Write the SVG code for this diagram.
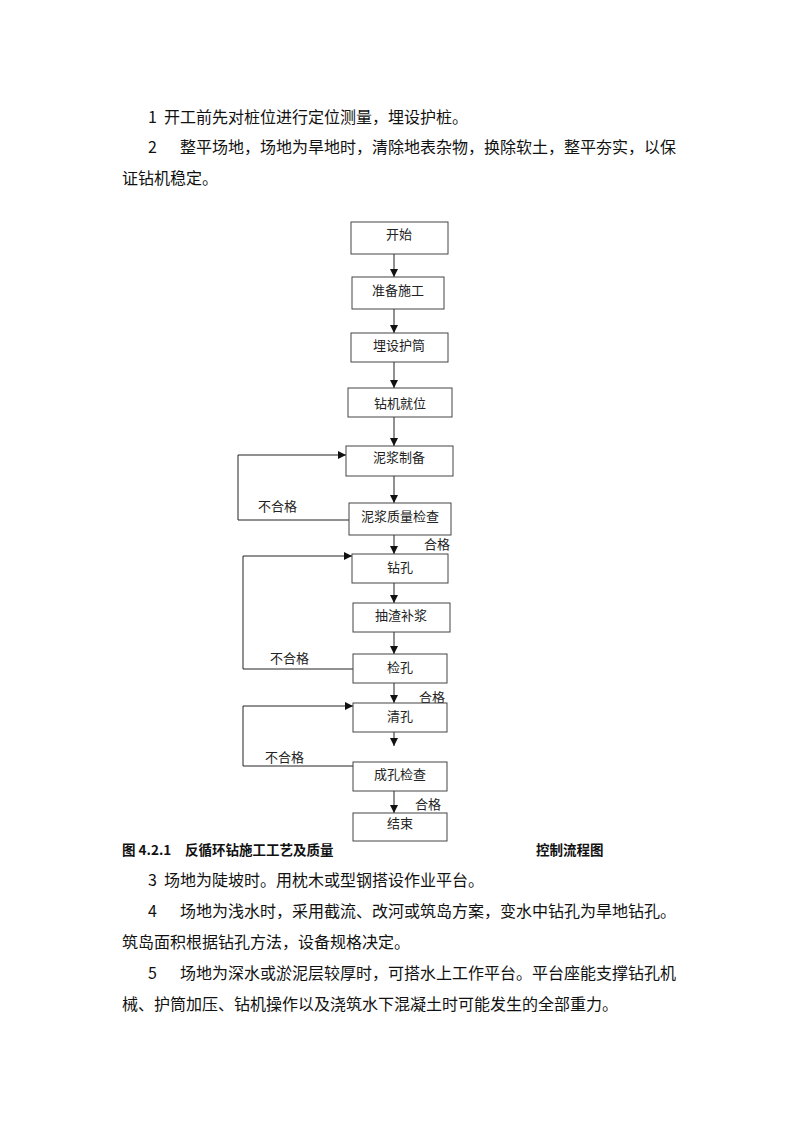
<svg xmlns="http://www.w3.org/2000/svg" width="800" height="1132" viewBox="0 0 800 1132">
<style>
.p{font-family:"Noto Sans CJK SC","Liberation Serif",serif;font-size:16px;fill:#111}
.cap{font-family:"Noto Sans CJK SC","Liberation Sans",sans-serif;font-size:13.5px;font-weight:bold;fill:#111}
.box{fill:#fff;stroke:#444;stroke-width:1}
.bt{font-family:"Noto Sans CJK SC","Liberation Sans",sans-serif;font-size:13px;fill:#222;text-anchor:middle}
.lb{font-family:"Noto Sans CJK SC","Liberation Sans",sans-serif;font-size:13px;fill:#222}
.ln{fill:none;stroke:#222;stroke-width:1}
</style>
<defs>
<marker id="ah" viewBox="0 0 10 10" refX="10" refY="5" markerWidth="8" markerHeight="8" markerUnits="userSpaceOnUse" orient="auto">
<path d="M0,0 L10,5 L0,10 Z" fill="#111"/>
</marker>
</defs>
<rect width="800" height="1132" fill="#fff"/>

<g id="text-top">
<text class="p" x="148" y="123">1</text>
<text class="p" x="164" y="123">开工前先对桩位进行定位测量，埋设护桩。</text>
<text class="p" x="148" y="153">2</text>
<text class="p" x="180" y="153">整平场地，场地为旱地时，清除地表杂物，换除软土，整平夯实，以保</text>
<text class="p" x="122" y="184">证钻机稳定。</text>
</g>

<g id="connectors">
<line class="ln" x1="394" y1="254" x2="394" y2="277" marker-end="url(#ah)"/>
<line class="ln" x1="394" y1="309" x2="394" y2="333" marker-end="url(#ah)"/>
<line class="ln" x1="394" y1="362" x2="394" y2="388" marker-end="url(#ah)"/>
<line class="ln" x1="394" y1="417" x2="394" y2="446" marker-end="url(#ah)"/>
<line class="ln" x1="394" y1="476" x2="394" y2="503" marker-end="url(#ah)"/>
<line class="ln" x1="394" y1="535" x2="394" y2="554" marker-end="url(#ah)"/>
<line class="ln" x1="394" y1="583" x2="394" y2="603" marker-end="url(#ah)"/>
<line class="ln" x1="394" y1="632" x2="394" y2="654" marker-end="url(#ah)"/>
<line class="ln" x1="394" y1="683" x2="394" y2="703" marker-end="url(#ah)"/>
<line class="ln" x1="394" y1="725" x2="394" y2="746" marker-end="url(#ah)"/>
<line class="ln" x1="394" y1="791" x2="394" y2="813" marker-end="url(#ah)"/>
<polyline class="ln" points="349,520 238,520 238,455 346,455" marker-end="url(#ah)"/>
<polyline class="ln" points="353,669 243,669 243,556 352,556" marker-end="url(#ah)"/>
<polyline class="ln" points="353,766 243,766 243,706 353,706" marker-end="url(#ah)"/>
<text class="lb" x="258" y="511">不合格</text>
<text class="lb" x="424" y="549">合格</text>
<text class="lb" x="270" y="663">不合格</text>
<text class="lb" x="419" y="702">合格</text>
<text class="lb" x="265" y="762">不合格</text>
<text class="lb" x="415" y="809">合格</text>
</g>

<g id="n-start"><rect class="box" x="351" y="222" width="97" height="32"/><text class="bt" x="399" y="239">开始</text></g>
<g id="n-prep"><rect class="box" x="352" y="277" width="92" height="32"/><text class="bt" x="398" y="295">准备施工</text></g>
<g id="n-casing"><rect class="box" x="351" y="333" width="97" height="29"/><text class="bt" x="399" y="350">埋设护筒</text></g>
<g id="n-rig"><rect class="box" x="348" y="388" width="104" height="29"/><text class="bt" x="400" y="408">钻机就位</text></g>
<g id="n-mud"><rect class="box" x="346" y="446" width="107" height="30"/><text class="bt" x="399" y="462">泥浆制备</text></g>
<g id="n-mudcheck"><rect class="box" x="349" y="503" width="102" height="32"/><text class="bt" x="400" y="521">泥浆质量检查</text></g>
<g id="n-drill"><rect class="box" x="352" y="554" width="96" height="29"/><text class="bt" x="400" y="572">钻孔</text></g>
<g id="n-slag"><rect class="box" x="353" y="603" width="97" height="29"/><text class="bt" x="401" y="620">抽渣补浆</text></g>
<g id="n-check"><rect class="box" x="353" y="654" width="94" height="29"/><text class="bt" x="400" y="672">检孔</text></g>
<g id="n-clean"><rect class="box" x="353" y="703" width="94" height="29"/><text class="bt" x="400" y="721">清孔</text></g>
<g id="n-final"><rect class="box" x="353" y="762" width="94" height="29"/><text class="bt" x="400" y="779">成孔检查</text></g>
<g id="n-end"><rect class="box" x="353" y="813" width="94" height="28"/><text class="bt" x="400" y="828">结束</text></g>

<g id="caption">
<text class="cap" x="122" y="855">图 4.2.1</text>
<text class="cap" x="185" y="855">反循环钻施工工艺及质量</text>
<text class="cap" x="536" y="855">控制流程图</text>
</g>

<g id="text-bottom">
<text class="p" x="148" y="886">3</text>
<text class="p" x="164" y="886">场地为陡坡时。用枕木或型钢搭设作业平台。</text>
<text class="p" x="148" y="917">4</text>
<text class="p" x="180" y="917">场地为浅水时，采用截流、改河或筑岛方案，变水中钻孔为旱地钻孔。</text>
<text class="p" x="122" y="948">筑岛面积根据钻孔方法，设备规格决定。</text>
<text class="p" x="148" y="979">5</text>
<text class="p" x="180" y="979">场地为深水或淤泥层较厚时，可搭水上工作平台。平台座能支撑钻孔机</text>
<text class="p" x="122" y="1010">械、护筒加压、钻机操作以及浇筑水下混凝土时可能发生的全部重力。</text>
</g>
</svg>
